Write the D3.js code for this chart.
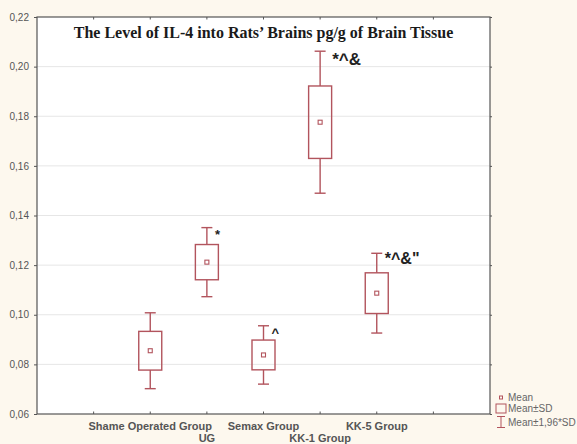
<!DOCTYPE html>
<html>
<head>
<meta charset="utf-8">
<script src="https://cdn.jsdelivr.net/npm/d3@7"></script>
<style>
  html, body { margin: 0; padding: 0; background: #fdf8ee; }
  svg { display: block; }
</style>
</head>
<body>
<svg id="chart" width="577" height="444"></svg>
<script>
// data
const groups = ['Shame Operated Group', 'UG', 'Semax Group', 'KK-1 Group', 'KK-5 Group']
const means = [0.0855, 0.1212, 0.0838, 0.1776, 0.1087]
const sds = [0.0078, 0.0071, 0.0060, 0.0146, 0.0082]
const marks = ['', '*', '^', '*^&', '*^&"']
const yTicks = [0.06, 0.08, 0.10, 0.12, 0.14, 0.16, 0.18, 0.20, 0.22]

const m = { left: 37, right: 490, top: 17, bottom: 414 }
const RED = '#b2545d'
const fmt = (v) => v.toFixed(2).replace('.', ',')

const svg = d3.select('#chart')

const x = d3.scalePoint().domain(groups).range([m.left, m.right]).padding(2)
const y = d3.scaleLinear().domain([0.06, 0.22]).range([m.bottom, m.top])
const step = x.step()

// plot background
svg.append('rect')
  .attr('x', m.left).attr('y', m.top)
  .attr('width', m.right - m.left).attr('height', m.bottom - m.top)
  .attr('fill', '#fff')

// grid
svg.append('g')
  .selectAll('line')
  .data(yTicks.slice(1, -1))
  .join('line')
  .attr('x1', m.left).attr('x2', m.right)
  .attr('y1', (d) => y(d)).attr('y2', (d) => y(d))
  .attr('stroke', '#e6e6e6')

// frame
svg.append('rect')
  .attr('x', m.left).attr('y', m.top)
  .attr('width', m.right - m.left).attr('height', m.bottom - m.top)
  .attr('fill', 'none').attr('stroke', '#555').attr('stroke-width', 1.2)

// y axis
const yAxis = svg.append('g')
  .attr('transform', `translate(${m.left},0)`)
  .call(d3.axisLeft(y).tickValues(yTicks).tickFormat(fmt).tickSize(3).tickPadding(5))
yAxis.select('.domain').remove()
yAxis.selectAll('line').attr('stroke', '#555')
yAxis.selectAll('text')
  .attr('font-family', 'Arial, "Liberation Sans", sans-serif')
  .attr('font-size', 10).attr('fill', '#555')

// right side ticks
svg.append('g')
  .attr('transform', `translate(${m.right},0)`)
  .call(d3.axisRight(y).tickValues(yTicks).tickFormat('').tickSize(2))
  .call((g) => g.select('.domain').remove())
  .selectAll('line').attr('stroke', '#555')

// x ticks (incl. the empty slots at both ends)
const xTickPos = d3.range(1, 8).map((k) => m.left + k * step)
for (const [y0, dir] of [[m.bottom, -1], [m.top, 1]]) {
  svg.append('g')
    .selectAll('line')
    .data(xTickPos)
    .join('line')
    .attr('x1', (d) => d).attr('x2', (d) => d)
    .attr('y1', y0).attr('y2', y0 + dir * 2.5)
    .attr('stroke', '#555')
}

// x labels, staggered
svg.append('g')
  .selectAll('text')
  .data(groups)
  .join('text')
  .attr('x', (d) => x(d))
  .attr('y', (d, i) => (i % 2 === 0 ? 430 : 442))
  .attr('text-anchor', 'middle')
  .attr('font-family', 'Arial, "Liberation Sans", sans-serif')
  .attr('font-weight', 'bold')
  .attr('font-size', 11)
  .attr('fill', '#555')
  .text((d) => d)

// title
svg.append('text')
  .attr('x', (m.left + m.right) / 2)
  .attr('y', 38)
  .attr('text-anchor', 'middle')
  .attr('font-family', '"Liberation Serif", "Times New Roman", serif')
  .attr('font-weight', 'bold')
  .attr('font-size', 16)
  .attr('fill', '#1a1a1a')
  .text('The Level of IL-4 into Rats\u2019 Brains pg/g of Brain Tissue')

// boxes
const boxW = 23
const capW = 11
const stats = groups.map((g, i) => ({ g, mean: means[i], sd: sds[i], mark: marks[i] }))

const box = svg.append('g')
  .selectAll('g')
  .data(stats)
  .join('g')
  .attr('transform', (d) => `translate(${x(d.g)},0)`)
  .attr('stroke', RED)
  .attr('stroke-width', 1.4)
  .attr('fill', 'none')

box.append('line')
  .attr('y1', (d) => y(d.mean + 1.96 * d.sd))
  .attr('y2', (d) => y(d.mean + d.sd))
box.append('line')
  .attr('y1', (d) => y(d.mean - d.sd))
  .attr('y2', (d) => y(d.mean - 1.96 * d.sd))
box.append('line')
  .attr('x1', -capW / 2).attr('x2', capW / 2)
  .attr('y1', (d) => y(d.mean + 1.96 * d.sd))
  .attr('y2', (d) => y(d.mean + 1.96 * d.sd))
box.append('line')
  .attr('x1', -capW / 2).attr('x2', capW / 2)
  .attr('y1', (d) => y(d.mean - 1.96 * d.sd))
  .attr('y2', (d) => y(d.mean - 1.96 * d.sd))
box.append('rect')
  .attr('x', -boxW / 2).attr('width', boxW)
  .attr('y', (d) => y(d.mean + d.sd))
  .attr('height', (d) => y(d.mean - d.sd) - y(d.mean + d.sd))
box.append('rect')
  .attr('x', -2).attr('width', 4)
  .attr('y', (d) => y(d.mean) - 2).attr('height', 4)
  .attr('stroke-width', 1.1)

// significance marks
const markSize = [0, 13, 13, 17, 16]
box.append('text')
  .attr('x', (d, i) => (i === 3 ? 12 : 8))
  .attr('y', (d, i) => y(d.mean + 1.96 * d.sd) + (i === 3 ? 14 : 11))
  .attr('stroke', 'none')
  .attr('fill', '#222')
  .attr('font-family', 'Arial, "Liberation Sans", sans-serif')
  .attr('font-weight', 'bold')
  .attr('font-size', (d, i) => markSize[i])
  .text((d) => d.mark)

// legend
const lg = svg.append('g')
  .attr('transform', 'translate(501,0)')
  .attr('font-family', 'Arial, "Liberation Sans", sans-serif')
  .attr('font-size', 10)
  .attr('fill', '#666')
lg.append('rect').attr('x', -1.5).attr('y', 396).attr('width', 3).attr('height', 3)
  .attr('fill', 'none').attr('stroke', RED)
lg.append('rect').attr('x', -5).attr('y', 404).attr('width', 10).attr('height', 9)
  .attr('fill', 'none').attr('stroke', RED)
lg.append('path').attr('d', 'M-4,416.5H4M0,416.5V427.5M-4,427.5H4')
  .attr('fill', 'none').attr('stroke', RED)
lg.append('text').attr('x', 7).attr('y', 401).text('Mean')
lg.append('text').attr('x', 7).attr('y', 412).text('Mean±SD')
lg.append('text').attr('x', 7).attr('y', 426).text('Mean±1,96*SD')
</script>
</body>
</html>
